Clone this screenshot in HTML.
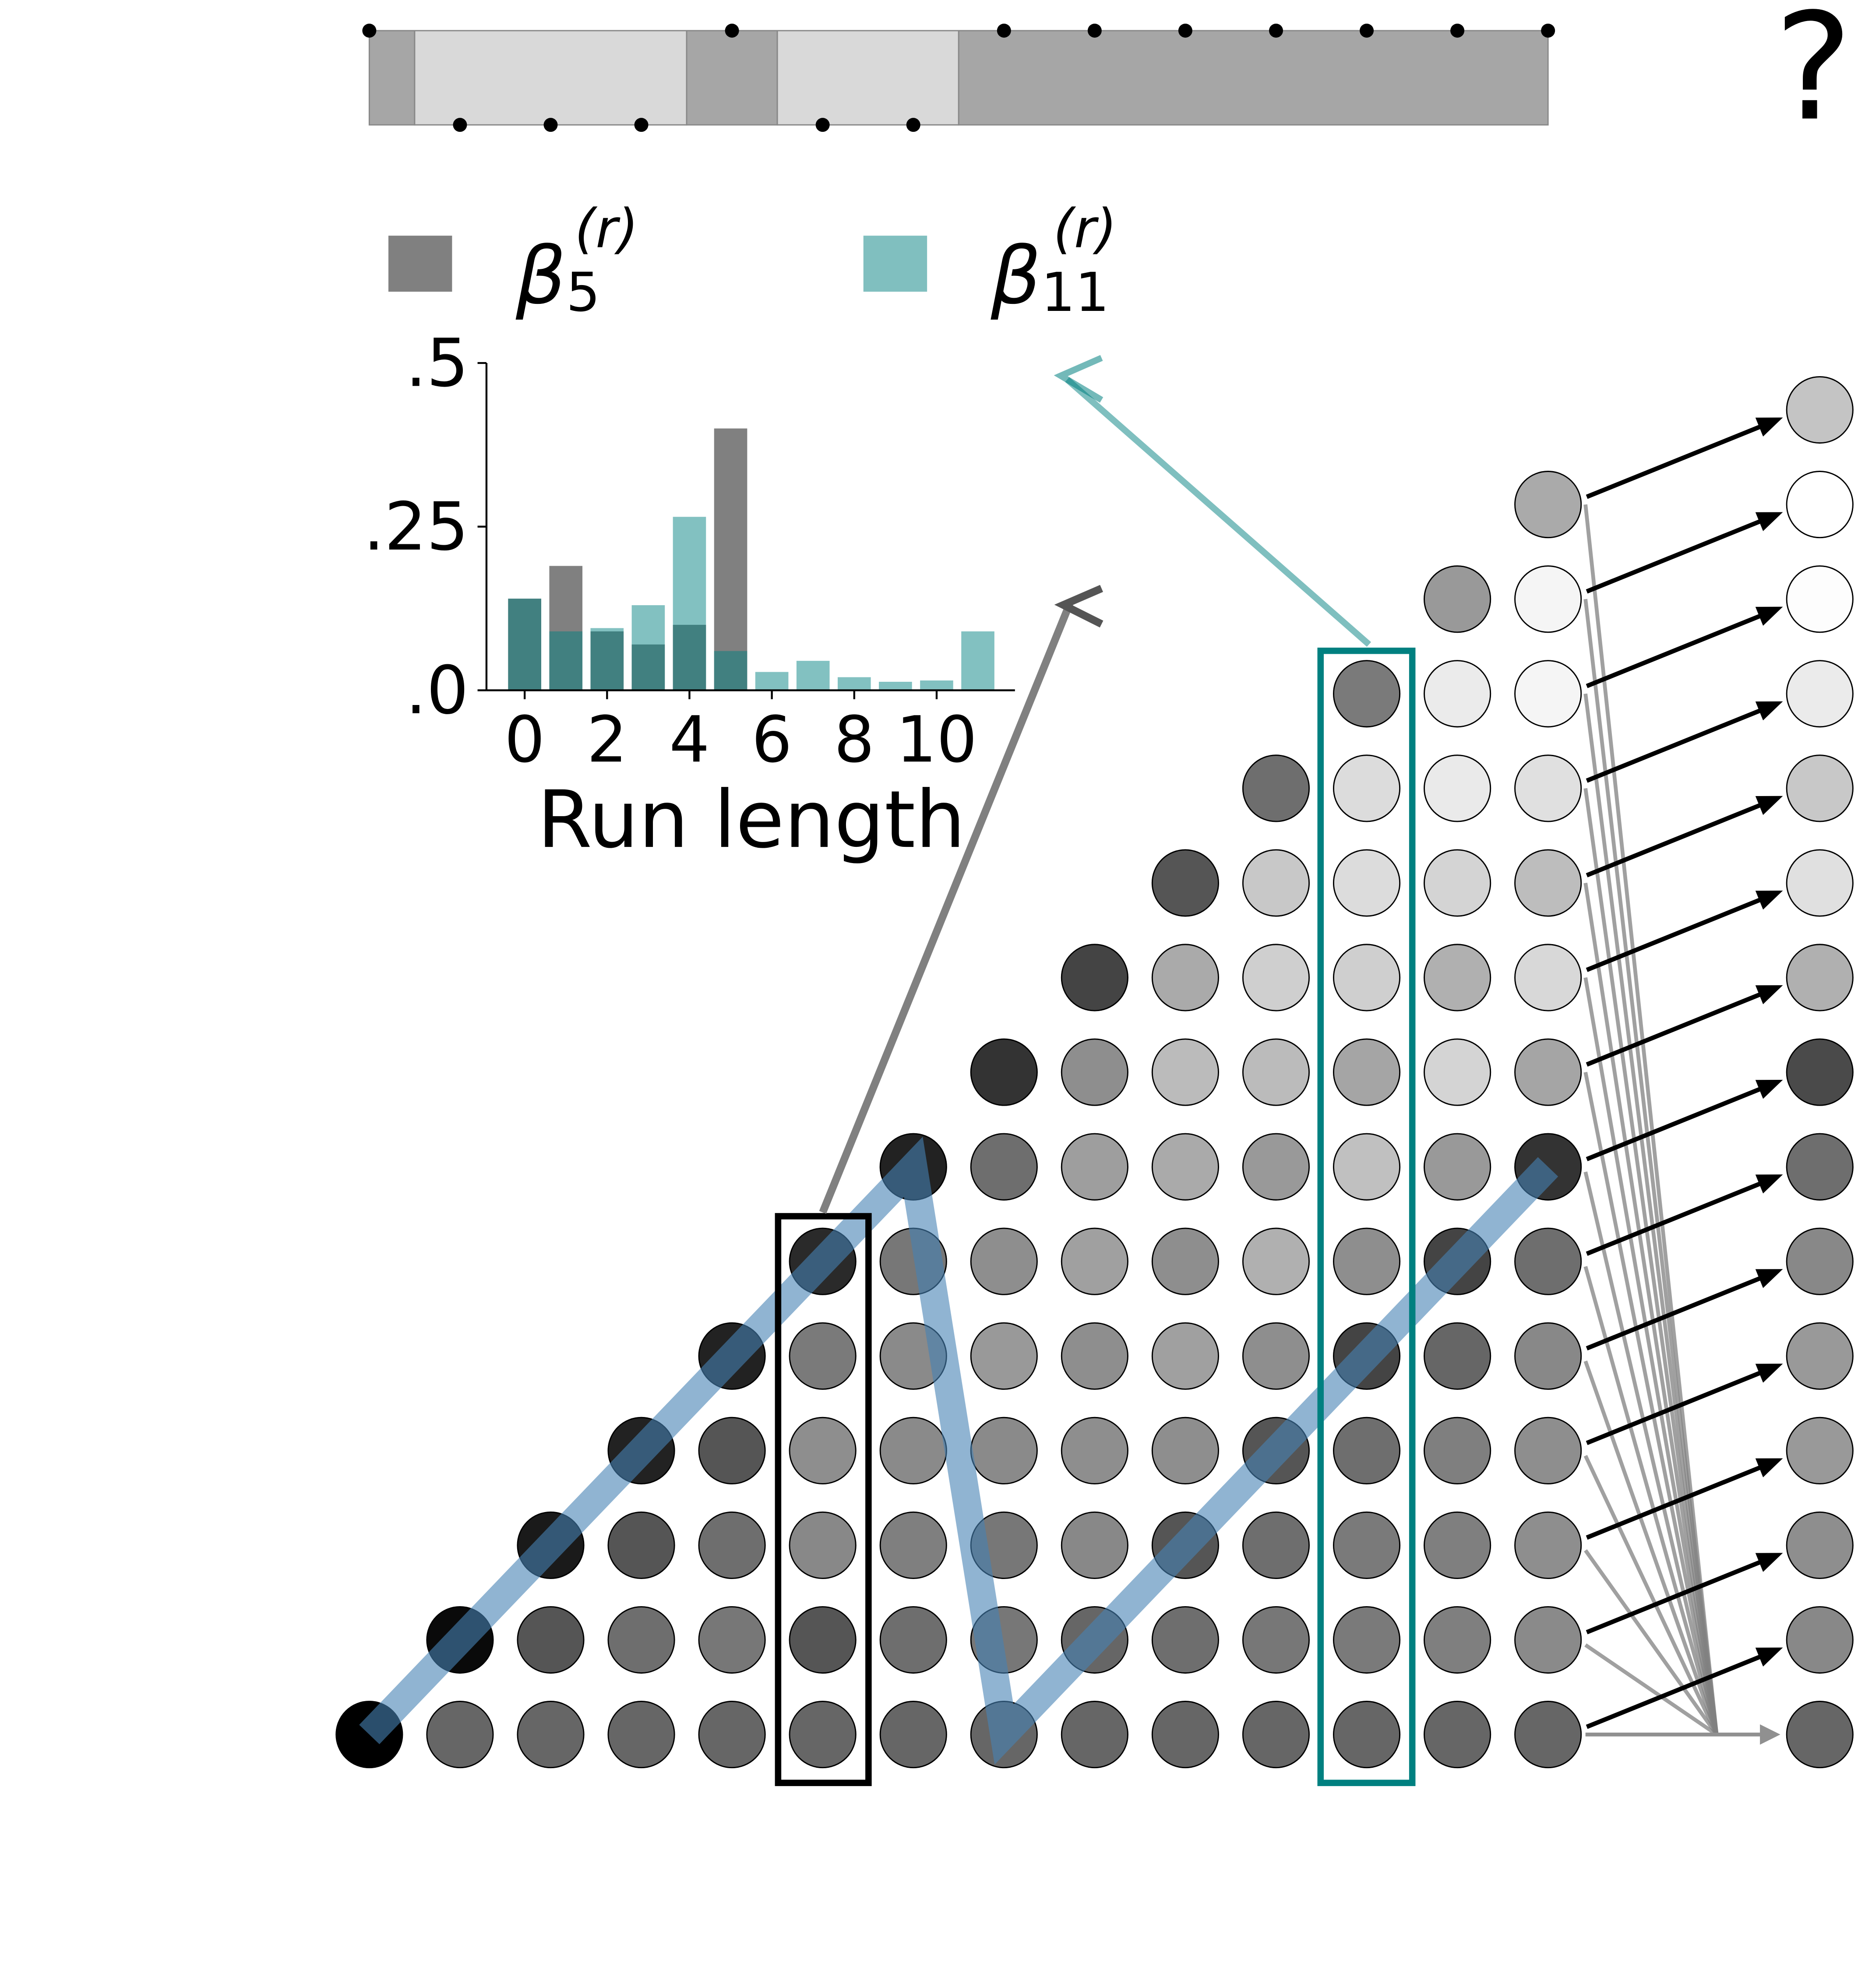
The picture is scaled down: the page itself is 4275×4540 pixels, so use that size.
<!DOCTYPE html>
<html><head><meta charset="utf-8"><style>html,body{margin:0;padding:0;background:#fff}svg{display:block}text{font-family:"DejaVu Sans","Liberation Sans",sans-serif}</style></head>
<body>
<svg id="fig" width="4275" height="4540" viewBox="0 0 1470 1561" xmlns="http://www.w3.org/2000/svg">
<g id="topbar"></g>
<text x="1424" y="93" font-size="116" text-anchor="middle">?</text>
<g>
<rect x="305" y="185" width="50" height="44" fill="#808080"/>
<text x="405" y="238" font-size="62" font-style="italic">β<tspan font-size="42" font-style="normal" dy="6">5</tspan><tspan font-size="42" dx="-20" dy="-50">(r)</tspan></text>
<rect x="678" y="185" width="50" height="44" fill="#80bfbf"/>
<text x="778" y="238" font-size="62" font-style="italic">β<tspan font-size="42" font-style="normal" dy="6">11</tspan><tspan font-size="42" dx="-44" dy="-50">(r)</tspan></text>
</g>
<g id="bars"></g>
<g id="grid"></g>
</svg>
<script>
const NS="http://www.w3.org/2000/svg";
const runLengths=[0,1,2,3,4,5,6,7,8,9,10,11];
const beta5=[0.14,0.19,0.09,0.07,0.10,0.40,0,0,0,0,0,0];
const beta11=[0.14,0.09,0.095,0.13,0.265,0.06,0.028,0.045,0.02,0.013,0.015,0.09];
const yTicks=[0,0.25,0.5];
const yTickLabels=[".0",".25",".5"];
const xTicks=[0,2,4,6,8,10];
const segStarts=[0,0.5,3.5,4.5,6.5];
const segEnds=[0.5,3.5,4.5,6.5,13];
const segDark=[1,0,1,0,1];
const dotTop=[1,0,0,0,1,0,0,1,1,1,1,1,1,1];
const shades=[
[0],
[102,10],
[102,85,26],
[102,110,85,34],
[102,119,110,85,34],
[102,85,136,142,122,42],
[102,110,127,138,138,119,34],
[102,119,119,138,153,142,110,51],
[102,102,136,142,142,160,158,142,68],
[102,110,85,142,160,142,170,187,170,85],
[102,119,110,85,142,176,153,187,207,200,110],
[102,122,122,110,68,142,192,165,207,220,220,122],
[102,127,127,127,102,68,153,212,176,212,234,235,153],
[102,138,142,142,136,110,51,165,216,189,224,245,245,170]];
const lastCol=[102,136,142,153,153,136,110,74,176,224,200,235,253,255,196];
const path=[[0,0],[6,6],[7,0],[13,6]];

function el(t,a,p){const e=document.createElementNS(NS,t);for(const k in a)e.setAttribute(k,a[k]);p.appendChild(e);return e;}
const X=j=>290+71.2*j, Y=r=>1362-74.3*r;
const tb=document.getElementById('topbar');
for(let i=0;i<segStarts.length;i++){const r=el('rect',{x:X(segStarts[i]),y:24,width:X(segEnds[i])-X(segStarts[i]),height:74,fill:segDark[i]?'#a6a6a6':'#d9d9d9',stroke:'#888','stroke-width':1},tb);

}
for(let j=0;j<dotTop.length;j++){const c=el('circle',{cx:X(j),cy:dotTop[j]?24:98,r:5.5,fill:'#000'},tb);

}
const bg=document.getElementById('bars');
const bx=v=>412+32.35*v, by=v=>542-514*v, bw=26;
for(let i=0;i<runLengths.length;i++){ if(beta5[i]>0){const r=el('rect',{x:bx(runLengths[i])-bw/2,y:by(beta5[i]),width:bw,height:542-by(beta5[i]),fill:'#808080'},bg);

}}
for(let i=0;i<runLengths.length;i++){const r=el('rect',{x:bx(runLengths[i])-bw/2,y:by(beta11[i]),width:bw,height:542-by(beta11[i]),fill:'#008080','fill-opacity':0.49},bg);

}
el('line',{x1:382,y1:by(0.5),x2:382,y2:542,stroke:'#000','stroke-width':1.5},bg);
el('line',{x1:382,y1:542,x2:797,y2:542,stroke:'#000','stroke-width':1.5},bg);
for(let i=0;i<yTicks.length;i++){el('line',{x1:375,y1:by(yTicks[i]),x2:382,y2:by(yTicks[i]),stroke:'#000','stroke-width':1.5},bg);
const t=el('text',{x:368,y:by(yTicks[i])+18,'font-size':52,'text-anchor':'end'},bg);t.textContent=yTickLabels[i];

}
for(const v of xTicks){el('line',{x1:bx(v),y1:542,x2:bx(v),y2:549,stroke:'#000','stroke-width':1.5},bg);
const t=el('text',{x:bx(v),y:598,'font-size':50,'text-anchor':'middle'},bg);t.textContent=v;

}
const xl=el('text',{x:590,y:665,'font-size':62,'text-anchor':'middle'},bg);xl.textContent='Run length';


const g=document.getElementById('grid');
const g2=v=>`rgb(${v},${v},${v})`;
for(let r=1;r<=13;r++){ el('line',{x1:1245,y1:Y(r)+(r<7?4:0),x2:1348,y2:1362,stroke:'#808080','stroke-opacity':0.75,'stroke-width':3},g);}
el('line',{x1:1245,y1:1362,x2:1385,y2:1362,stroke:'#909090','stroke-width':3},g);
el('polygon',{points:'1398,1362 1382,1354 1382,1370',fill:'#909090'},g);
for(let r=0;r<=13;r++){const x1=1246,y1=Y(r)-6,x2=1400,y2=Y(r+1)+6;const a=Math.atan2(y2-y1,x2-x1);
el('line',{x1,y1,x2:x2-14*Math.cos(a),y2:y2-14*Math.sin(a),stroke:'#000','stroke-width':3.5},g);
const p1=[x2-20*Math.cos(a)+8*Math.sin(a),y2-20*Math.sin(a)-8*Math.cos(a)],p2=[x2-20*Math.cos(a)-8*Math.sin(a),y2-20*Math.sin(a)+8*Math.cos(a)];
el('polygon',{points:`${x2},${y2} ${p1} ${p2}`,fill:'#000'},g);}
for(let j=0;j<shades.length;j++)for(let r=0;r<shades[j].length;r++){const c=el('circle',{cx:X(j),cy:Y(r),r:26,fill:g2(shades[j][r]),stroke:'#000','stroke-width':1},g);

}
for(let r=0;r<lastCol.length;r++){const c=el('circle',{cx:1429,cy:Y(r),r:26,fill:g2(lastCol[r]),stroke:'#000','stroke-width':1},g);

}
const pl=el('polyline',{points:path.map(p=>X(p[0])+','+Y(p[1])).join(' '),fill:'none',stroke:'#4682b4','stroke-opacity':0.6,'stroke-width':22,'stroke-linejoin':'miter'},g);


const rb=el('rect',{x:611,y:955,width:71,height:445,fill:'none',stroke:'#000','stroke-width':5},g);


const rt=el('rect',{x:1037,y:511,width:72,height:889,fill:'none',stroke:'#008080','stroke-width':5},g);


el('line',{x1:646,y1:952,x2:840,y2:474,stroke:'#808080','stroke-width':6},g);
el('polyline',{points:'865,462 835,475 865,490',fill:'none',stroke:'#555','stroke-width':6},g);
el('line',{x1:1075,y1:506,x2:838,y2:298,stroke:'#008080','stroke-opacity':0.5,'stroke-width':5},g);
el('polyline',{points:'865,281 833,295 865,314',fill:'none',stroke:'#008080','stroke-opacity':0.55,'stroke-width':5},g);
</script>
</body></html>
